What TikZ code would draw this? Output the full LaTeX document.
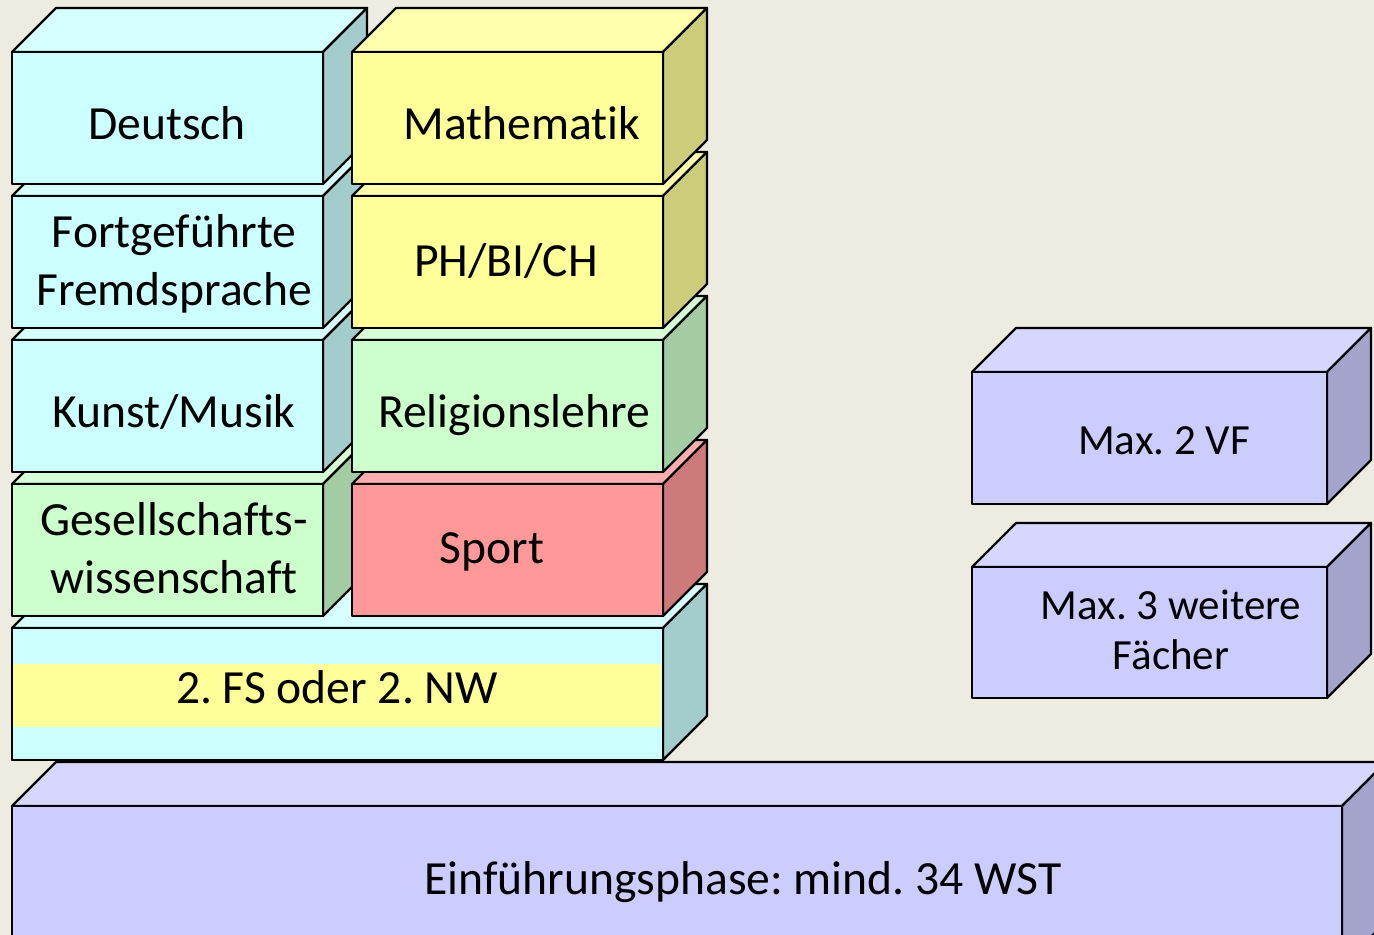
\documentclass[tikz,border=0pt]{standalone}
\usepackage{fontspec}
\setmainfont{Carlito}[Ligatures=NoCommon]
\usepackage{tikz}
\usepackage{xcolor}
\frenchspacing
\definecolor{ColPaper}{RGB}{238,236,225}
\definecolor{ColCyan}{RGB}{204,255,255}
\definecolor{ColYellow}{RGB}{255,255,153}
\definecolor{ColGreen}{RGB}{204,255,204}
\definecolor{ColRed}{RGB}{255,153,153}
\definecolor{ColLilac}{RGB}{204,204,255}
\tikzstyle{FaceBrick}=[draw=black,line width=1.2pt,line join=round]
\tikzstyle{LabelBrick}=[inner sep=0pt,anchor=base,align=center,
font=\fontsize{23.8}{29}\selectfont]
\tikzstyle{LabelSmall}=[LabelBrick,font=\fontsize{21.5}{25}\selectfont]
% x, y (front top left), width, height, colour
\newcommand{\Brick}[5]{%
  \filldraw[FaceBrick,fill=#5!80!white](#1,#2)--++(44,-44)--++(#3,0)--++(-44,44)--cycle;
  \filldraw[FaceBrick,fill=#5!80!black](#1+#3,#2)--++(44,-44)--++(0,#4)--++(-44,44)--cycle;
  \filldraw[FaceBrick,fill=#5](#1,#2)rectangle++(#3,#4);}

\begin{document}
\begin{tikzpicture}[x=0.5pt,y=-0.5pt]
        \useasboundingbox(0,0)rectangle(1374,935);
        \fill[ColPaper](0,0)rectangle(1374,935);
        \clip(0,0)rectangle(1374,935);
        % bottom up, left to right
        \Brick{12}{806}{1330}{160}{ColLilac}
        \Brick{12}{628}{651}{132}{ColCyan}
        \fill[ColYellow](13,664)rectangle(661,727);
        \draw[FaceBrick](12,628)rectangle(663,760);
        \Brick{12}{484}{311}{132}{ColGreen}
        \Brick{352}{484}{311}{132}{ColRed}
        \Brick{12}{340}{311}{132}{ColCyan}
        \Brick{352}{340}{311}{132}{ColGreen}
        \Brick{12}{196}{311}{132}{ColCyan}
        \Brick{352}{196}{311}{132}{ColYellow}
        \Brick{12}{52}{311}{132}{ColCyan}
        \Brick{352}{52}{311}{132}{ColYellow}
        \Brick{972}{372}{355}{132}{ColLilac}
        \Brick{972}{567}{355}{131}{ColLilac}
        % labels (base = last line)
        \node[LabelBrick](deutsch)at(167,140){Deutsch};
        \node[LabelBrick](mathe)at(522,140){Mathematik};
        \node[LabelBrick](fremd)at(174,306){Fortgeführte\\Fremdsprache};
        \node[LabelBrick](nawi)at(506,277){PH/BI/CH};
        \node[LabelBrick](kunst)at(174,427){Kunst/Musik};
        \node[LabelBrick](reli)at(514,427){Religionslehre};
        \node[LabelBrick](gesell)at(174,593){Gesellschafts-\\wissenschaft};
        \node[LabelBrick](sport)at(492,563){Sport};
        \node[LabelBrick](zweite)at(337,703){2. FS oder 2. NW};
        \node[LabelSmall](vf)at(1164,454){Max. 2 VF};
        \node[LabelSmall](weitere)at(1171,669){Max. 3 weitere\\Fächer};
        \node[LabelBrick](einf)at(743,894){Einführungsphase: mind. 34 WST};
    \end{tikzpicture}
\end{document}
